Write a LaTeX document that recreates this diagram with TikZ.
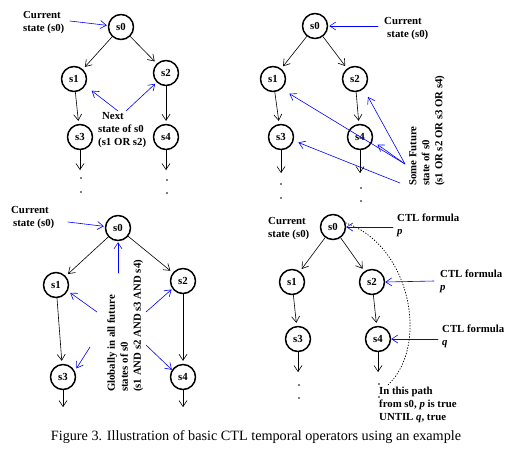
\documentclass[tikz,border=0pt]{standalone}
\usepackage{fontspec}
\setmainfont{Liberation Serif}
\usepackage{tikz}
\usetikzlibrary{arrows.meta}

\newcommand{\ctlfont}{\fontsize{10.8}{13}\selectfont\bfseries}
\newcommand{\capfont}{\fontsize{14.2}{16}\selectfont}

\tikzset{
  state/.style={circle, draw, line width=1.5pt, minimum size=25pt, inner sep=0pt},
  trans/.style={->, line width=0.6pt, shorten >=3pt},
  hint/.style={->, blue, line width=0.6pt},
  note/.style={align=left, anchor=west, inner sep=0pt}
}

\begin{document}
\begin{tikzpicture}[
  x=1pt, y=-1pt,
  >={Straight Barb[length=6pt,width=8pt]},
  line cap=round,
  line join=round,
  every node/.style={font=\ctlfont}
]
  \useasboundingbox (0,0) rectangle (518,448);

  % top left: next state
  \node[state] (a0) at (121,27) {s0};
  \node[state] (a1) at (74,79) {s1};
  \node[state] (a2) at (166,73) {s2};
  \node[state] (a3) at (80,137) {s3};
  \node[state] (a4) at (166,137) {s4};
  \coordinate (a3e) at (80,170);
  \coordinate (a4e) at (166,170);
  \draw[trans] (a0) -- (a1);
  \draw[trans] (a0) -- (a2);
  \draw[trans] (a1) -- (a3);
  \draw[trans] (a2) -- (a4);
  \draw[->, line width=0.6pt] (a3) -- (a3e);
  \draw[->, line width=0.6pt] (a4) -- (a4e);
  \foreach \pt in {(81,178),(81,192),(167,180),(167,193)}{\fill \pt circle (0.9pt);}

  \node[note] (aCur) at (23,22.5) {Current\\state (s0)};
  \coordinate (aCurT) at (70,21);
  \draw[hint, shorten >=1pt] (aCurT) -- (a0);
  \node[note] (aNext) at (98,130) {\hspace{4pt}Next\\state of s0\\(s1 OR s2)};
  \coordinate (aN1) at (118,111);
  \coordinate (aN2) at (126,111);
  \draw[hint, shorten >=8pt] (aN1) -- (a1.-31);
  \draw[hint, shorten >=2pt] (aN2) -- (a2.225);

  % top right: some future state
  \node[state] (b0) at (315,26) {s0};
  \node[state] (b1) at (273,79) {s1};
  \node[state] (b2) at (355,79) {s2};
  \node[state] (b3) at (281,137) {s3};
  \node[state] (b4) at (360,137) {s4};
  \coordinate (b3e) at (281,173);
  \coordinate (b4e) at (360,173);
  \draw[trans] (b0) -- (b1);
  \draw[trans] (b0) -- (b2);
  \draw[trans] (b1) -- (b3);
  \draw[trans] (b2) -- (b4);
  \draw[->, line width=0.6pt] (b3) -- (b3e);
  \draw[->, line width=0.6pt] (b4) -- (b4e);
  \foreach \pt in {(281,184),(281,198),(361,188),(361,201)}{\fill \pt circle (0.9pt);}

  \node[note] (bCur) at (384,28.5) {Current\\\hspace{3pt}state (s0)};
  \coordinate (bCurT) at (378,26);
  \draw[hint, shorten >=1pt] (bCurT) -- (b0);
  \node[note, anchor=north west, rotate=90] (bFut) at (409,186)
    {Some Future\\state of s0\\(s1 OR s2 OR s3 OR s4)};
  \coordinate (bF1) at (405,164);
  \coordinate (bF2) at (400,183);
  \draw[hint, shorten >=9pt] (bF1) -- (b1.-49);
  \draw[hint, shorten >=9pt] (bF1) -- (b2.-49);
  \draw[hint, shorten >=6pt] (bF1) -- (b4.-18);
  \draw[hint, shorten >=5pt] (bF2) -- (b3.-16);

  % bottom left: globally
  \node[state] (c0) at (118,228) {s0};
  \node[state] (c1) at (56,285) {s1};
  \node[state] (c2) at (183,281) {s2};
  \node[state] (c3) at (63,377) {s3};
  \node[state] (c4) at (183,377) {s4};
  \coordinate (c3e) at (63,407);
  \coordinate (c4e) at (183,407);
  \draw[trans] (c0) -- (c1);
  \draw[trans] (c0) -- (c2);
  \draw[trans] (c1) -- (c3);
  \draw[trans] (c2) -- (c4);
  \draw[->, line width=0.6pt] (c3) -- (c3e);
  \draw[->, line width=0.6pt] (c4) -- (c4e);

  \node[note] (cCur) at (11,218) {Current\\\hspace{2pt}state (s0)};
  \coordinate (cCurT) at (68,222);
  \draw[hint, shorten >=1pt] (cCurT) -- (c0);
  \node[note, anchor=north west, rotate=90] (cGlob) at (107,392)
    {Globally in all future\\states of s0\\(s1 AND s2 AND s3 AND s4)};
  \coordinate (cG0) at (118,273);
  \coordinate (cG1) at (97,312);
  \coordinate (cG3) at (90,347);
  \coordinate (cG2) at (146,312);
  \coordinate (cG4) at (146,345);
  \draw[hint, shorten >=1pt] (cG0) -- (c0.south);
  \draw[hint, shorten >=3pt] (cG1) -- (c1.-27);
  \draw[hint, shorten >=3pt] (cG3) -- (c3.27);
  \draw[hint, shorten >=1pt] (cG2) -- (c2.216);
  \draw[hint] (cG4) -- (c4.147);

  % bottom right: until
  \node[state] (d0) at (333,227) {s0};
  \node[state] (d1) at (292,282) {s1};
  \node[state] (d2) at (372,282) {s2};
  \node[state] (d3) at (298,339) {s3};
  \node[state] (d4) at (378,339) {s4};
  \coordinate (d3e) at (298,372);
  \coordinate (d4e) at (378,372);
  \draw[trans] (d0) -- (d1);
  \draw[trans] (d0) -- (d2);
  \draw[trans] (d1) -- (d3);
  \draw[trans] (d2) -- (d4);
  \draw[->, line width=0.6pt] (d3) -- (d3e);
  \draw[->, line width=0.6pt] (d4) -- (d4e);
  \foreach \pt in {(299,385),(299,398),(379,384),(379,397)}{\fill \pt circle (0.9pt);}

  \node[note] (dCur) at (268,229) {Current\\state (s0)};
  \node[note] (dF0t) at (397,225) {CTL formula\\\textit{p}};
  \node[note] (dF2t) at (440,281.5) {CTL formula\\\textit{p}};
  \node[note] (dF4t) at (442,336.5) {CTL formula\\\textit{q}};
  \coordinate (dF0) at (393,227);
  \coordinate (dF2) at (434,281);
  \coordinate (dF4) at (438,339);
  \draw[hint] (dF0) -- (d0.east);
  \draw[hint] (dF2) -- (d2.east);
  \draw[hint] (dF4) -- (d4.east);
  \coordinate (dEnd) at (388,385);
  \draw[dotted, line width=0.8pt] (d0.18) .. controls (410,245) and (430,345) .. (dEnd);
  \node[note] (dPath) at (379,404.5)
    {In this path\\from s0, \textit{p} is true\\UNTIL \textit{q}, true};

  \node[font=\capfont] (cap) at (256,437)
    {Figure 3. Illustration of basic CTL temporal operators using an example};
\end{tikzpicture}
\end{document}
